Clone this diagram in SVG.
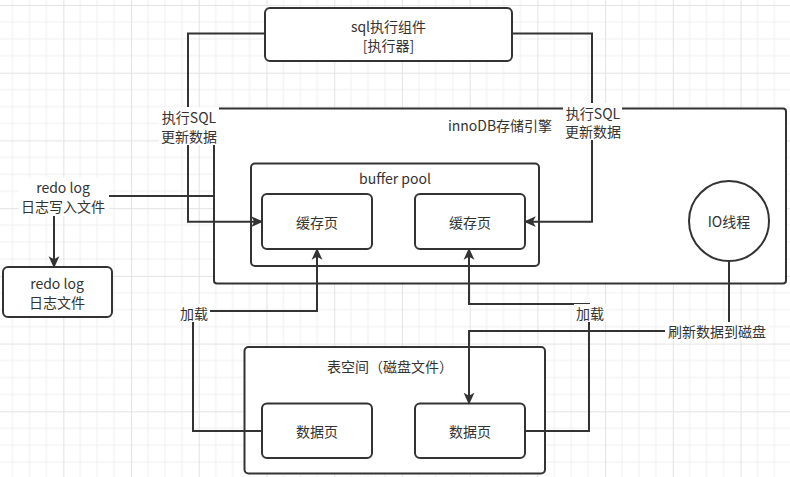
<svg xmlns="http://www.w3.org/2000/svg" width="790" height="477" viewBox="0 0 790 477">
<defs>
<pattern id="grid" patternUnits="userSpaceOnUse" x="-4.4" y="5" width="67.72" height="67.72">
<rect width="67.72" height="67.72" fill="#ffffff"/>
<path d="M16.93,0V67.72M33.86,0V67.72M50.79,0V67.72M0,16.93H67.72M0,33.86H67.72M0,50.79H67.72" stroke="#f0f0f0" stroke-width="1" fill="none"/>
<path d="M0.5,0V67.72M0,0.5H67.72" stroke="#e3e3e3" stroke-width="1" fill="none"/>
</pattern>
<marker id="arr" markerUnits="userSpaceOnUse" markerWidth="12" markerHeight="12" viewBox="0 0 10 10" refX="9" refY="5" orient="auto">
<path d="M0,0.5 L10,5 L0,9.5 L2.5,5 z" fill="#333333"/>
</marker>
</defs>
<style>
.box{fill:#ffffff;stroke:#333333;stroke-width:2}
.edge{fill:none;stroke:#333333;stroke-width:2}
.t{font-family:"Noto Sans CJK SC","Microsoft YaHei",sans-serif;font-size:14px;fill:#333333;text-anchor:middle;dominant-baseline:central}
.bg{fill:#ffffff}
</style>
<rect width="790" height="477" fill="url(#grid)"/>

<g id="innodb">
<rect class="box" x="214" y="108.5" width="572" height="175" rx="3"/>
<text class="t" x="500" y="125">innoDB存储引擎</text>
</g>
<g id="bufferpool">
<rect class="box" x="251" y="163.5" width="288" height="102.5" rx="4"/>
<text class="t" x="395" y="178">buffer pool</text>
</g>
<g id="cache1">
<rect class="box" x="262" y="194" width="110" height="55" rx="5"/>
<text class="t" x="317" y="221.5">缓存页</text>
</g>
<g id="cache2">
<rect class="box" x="415" y="194" width="110" height="55" rx="5"/>
<text class="t" x="470" y="221.5">缓存页</text>
</g>
<g id="io">
<circle class="box" cx="729" cy="221" r="40"/>
<text class="t" x="729" y="221">IO线程</text>
</g>
<g id="executor">
<rect class="box" x="265" y="8" width="247" height="53" rx="5"/>
<text class="t" x="388.5" y="26">sql执行组件</text>
<text class="t" x="388.5" y="45">[执行器]</text>
</g>
<g id="redolog">
<rect class="box" x="3" y="267" width="109" height="50" rx="5"/>
<text class="t" x="57" y="283">redo log</text>
<text class="t" x="57" y="302">日志文件</text>
</g>
<g id="tablespace">
<rect class="box" x="244.5" y="347" width="300.5" height="126.5" rx="4"/>
<text class="t" x="390" y="366">表空间（磁盘文件）</text>
</g>
<g id="data1">
<rect class="box" x="262" y="403.5" width="110" height="54.5" rx="5"/>
<text class="t" x="317" y="431">数据页</text>
</g>
<g id="data2">
<rect class="box" x="415" y="403.5" width="110" height="54.5" rx="5"/>
<text class="t" x="470" y="431">数据页</text>
</g>

<g id="connectors">
<path class="edge" d="M265,33.5H188V221.7H262" marker-end="url(#arr)"/>
<path class="edge" d="M512,33.5H592V221.7H525" marker-end="url(#arr)"/>
<path class="edge" d="M214,196H54V267" marker-end="url(#arr)"/>
<path class="edge" d="M262,431H193V311H317V249" marker-end="url(#arr)"/>
<path class="edge" d="M525,431H589V304H469V249" marker-end="url(#arr)"/>
<path class="edge" d="M729,261V331H469V403.5" marker-end="url(#arr)"/>

<rect class="bg" x="159" y="107" width="60" height="38"/>
<text class="t" x="189" y="116.5">执行SQL</text>
<text class="t" x="189" y="135.5">更新数据</text>

<rect class="bg" x="563" y="103" width="59" height="37"/>
<text class="t" x="593" y="112.5">执行SQL</text>
<text class="t" x="593" y="131">更新数据</text>

<rect class="bg" x="19" y="178" width="90" height="38"/>
<text class="t" x="63" y="187">redo log</text>
<text class="t" x="63" y="206">日志写入文件</text>

<rect class="bg" x="178" y="304" width="32" height="18"/>
<text class="t" x="194" y="313">加载</text>

<rect class="bg" x="574" y="304" width="32" height="18"/>
<text class="t" x="590" y="313">加载</text>

<rect class="bg" x="665" y="322" width="104" height="18"/>
<text class="t" x="717" y="331">刷新数据到磁盘</text>
</g>
</svg>
